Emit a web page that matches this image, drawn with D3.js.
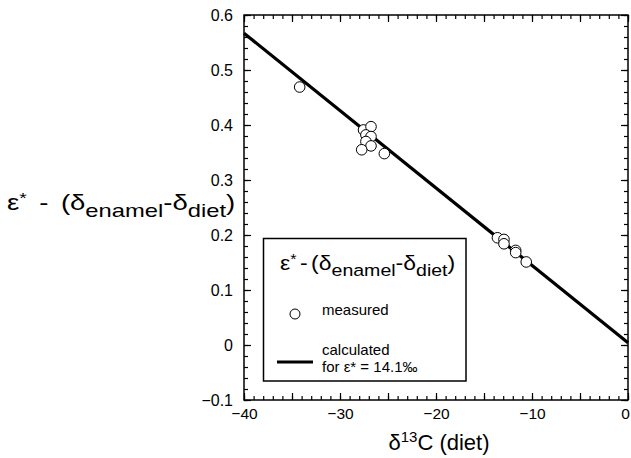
<!DOCTYPE html>
<html>
<head>
<meta charset="utf-8">
<script src="https://cdn.jsdelivr.net/npm/d3@7"></script>
<style>
  body { margin: 0; background: #fff; }
  svg text { font-family: "Liberation Sans", Arial, sans-serif; fill: #000; }
</style>
</head>
<body>
<div id="chart"></div>
<script>
// axis setup
const xDomain = [-40, 0];
const yDomain = [-0.1, 0.6];
const xTickVals = [-40, -30, -20, -10, 0];
const yTickVals = [-0.1, 0, 0.1, 0.2, 0.3, 0.4, 0.5, 0.6];

// measured points
const measuredX = [-34.2, -27.55, -26.77, -27.3, -26.77, -27.3, -26.77, -27.74, -25.38,
                   -13.6, -12.92, -12.92, -11.7, -11.7, -10.6];
const measuredY = [0.469, 0.391, 0.397, 0.382, 0.379, 0.370, 0.362, 0.355, 0.348,
                   0.195, 0.192, 0.184, 0.172, 0.168, 0.151];

// calculated line, eps* = 14.1 permil
const calcX = [-40, 0];
const calcY = [0.567, 0.004];

const W = 631, H = 458;
const m = { left: 244, right: 628, top: 15, bottom: 400 };

const svg = d3.select('#chart').append('svg')
  .attr('width', W).attr('height', H);
svg.append('rect').attr('width', W).attr('height', H).attr('fill', '#fff');

const x = d3.scaleLinear().domain(xDomain).range([m.left, m.right]);
const y = d3.scaleLinear().domain(yDomain).range([m.bottom, m.top]);

// ticks on all 4 sides, pointing inward
function ticks(axisFn, scale, vals, size, pos, isX) {
  const g = svg.append('g')
    .attr('transform', isX ? `translate(0,${pos})` : `translate(${pos},0)`)
    .call(axisFn(scale).tickValues(vals).tickSize(size).tickFormat(''));
  g.select('.domain').remove();
  g.selectAll('line').attr('stroke', '#000').attr('stroke-width', 1.2);
  return g;
}
const xMinor = d3.range(-40, 0.1, 1);
const xMajor = d3.range(-40, 0.1, 5);
const yMinor = d3.range(-0.1, 0.601, 0.02);

ticks(d3.axisBottom, x, xMinor, -4, m.bottom, true);
ticks(d3.axisBottom, x, xMajor, -7, m.bottom, true);
ticks(d3.axisTop, x, xMinor, -4, m.top, true);
ticks(d3.axisTop, x, xMajor, -7, m.top, true);
ticks(d3.axisLeft, y, yMinor, -4, m.left, false);
ticks(d3.axisLeft, y, yTickVals, -7, m.left, false);
ticks(d3.axisRight, y, yMinor, -4, m.right, false);
ticks(d3.axisRight, y, yTickVals, -7, m.right, false);

// tick labels
const xAx = svg.append('g').attr('transform', `translate(0,${m.bottom})`)
  .call(d3.axisBottom(x).tickValues(xTickVals).tickSize(0).tickPadding(8).tickFormat(d3.format('d')));
xAx.select('.domain').remove();
xAx.selectAll('text').attr('font-size', 15.5).attr('font-family', '"Liberation Sans", Arial, sans-serif')
  .attr('dx', d => d === 0 ? -3 : 0);

const yAx = svg.append('g').attr('transform', `translate(${m.left},0)`)
  .call(d3.axisLeft(y).tickValues(yTickVals).tickSize(0).tickPadding(11)
    .tickFormat(d => d === 0 ? '0' : d3.format('.1f')(d)));
yAx.select('.domain').remove();
yAx.selectAll('text').attr('font-size', 16).attr('font-family', '"Liberation Sans", Arial, sans-serif');

// frame
svg.append('rect')
  .attr('x', m.left).attr('y', m.top)
  .attr('width', m.right - m.left).attr('height', m.bottom - m.top)
  .attr('fill', 'none').attr('stroke', '#000').attr('stroke-width', 1.5);

// calculated line
svg.append('path')
  .datum(calcX.map((v, i) => [v, calcY[i]]))
  .attr('d', d3.line().x(d => x(d[0])).y(d => y(d[1])))
  .attr('stroke', '#000').attr('stroke-width', 3.2).attr('fill', 'none');

// measured points
svg.append('g').selectAll('circle')
  .data(measuredX.map((v, i) => [v, measuredY[i]]))
  .join('circle')
  .attr('cx', d => x(d[0])).attr('cy', d => y(d[1])).attr('r', 5.3)
  .attr('fill', '#fff').attr('stroke', '#000').attr('stroke-width', 1);

// epsilon label builder
function epsLabel(sel, fs, sub, gap1, gap2) {
  sel.append('tspan').text('ε');
  sel.append('tspan').attr('font-size', fs * 0.7).attr('dy', -fs * 0.3).text('*');
  sel.append('tspan').attr('dy', fs * 0.3).attr('dx', gap1).text('-');
  sel.append('tspan').attr('dx', gap2).text('(δ');
  sel.append('tspan').attr('font-size', sub).attr('dy', fs * 0.3).text('enamel');
  sel.append('tspan').attr('dy', -fs * 0.3).text('-δ');
  sel.append('tspan').attr('font-size', sub).attr('dy', fs * 0.3).text('diet');
  sel.append('tspan').attr('dy', -fs * 0.3).text(')');
}

// y-axis title
epsLabel(svg.append('text').attr('transform', 'translate(7,210) scale(1.25,1)')
  .attr('font-size', 22), 22, 19, 10, 10);

// x-axis title
const xt = svg.append('text').attr('x', 439).attr('y', 450)
  .attr('text-anchor', 'middle').attr('font-size', 22);
xt.append('tspan').text('δ');
xt.append('tspan').attr('font-size', 15).attr('dy', -8).text('13');
xt.append('tspan').attr('dy', 8).text('C (diet)');

// legend
const lg = svg.append('g');
lg.append('rect').attr('x', 263.5).attr('y', 238.5).attr('width', 202.5).attr('height', 142.5)
  .attr('fill', '#fff').attr('stroke', '#000').attr('stroke-width', 1.5);
epsLabel(lg.append('text').attr('transform', 'translate(280,270) scale(1.15,1)')
  .attr('font-size', 20), 20, 17, 3, 3);
lg.append('circle').attr('cx', 295).attr('cy', 314).attr('r', 5)
  .attr('fill', '#fff').attr('stroke', '#000').attr('stroke-width', 1);
lg.append('text').attr('x', 322).attr('y', 315).attr('font-size', 15).text('measured');
lg.append('line').attr('x1', 277).attr('x2', 313).attr('y1', 362).attr('y2', 362)
  .attr('stroke', '#000').attr('stroke-width', 3);
lg.append('text').attr('x', 322).attr('y', 355).attr('font-size', 15).text('calculated');
lg.append('text').attr('x', 322).attr('y', 372).attr('font-size', 15).text('for ε* = 14.1‰');
</script>
</body>
</html>
